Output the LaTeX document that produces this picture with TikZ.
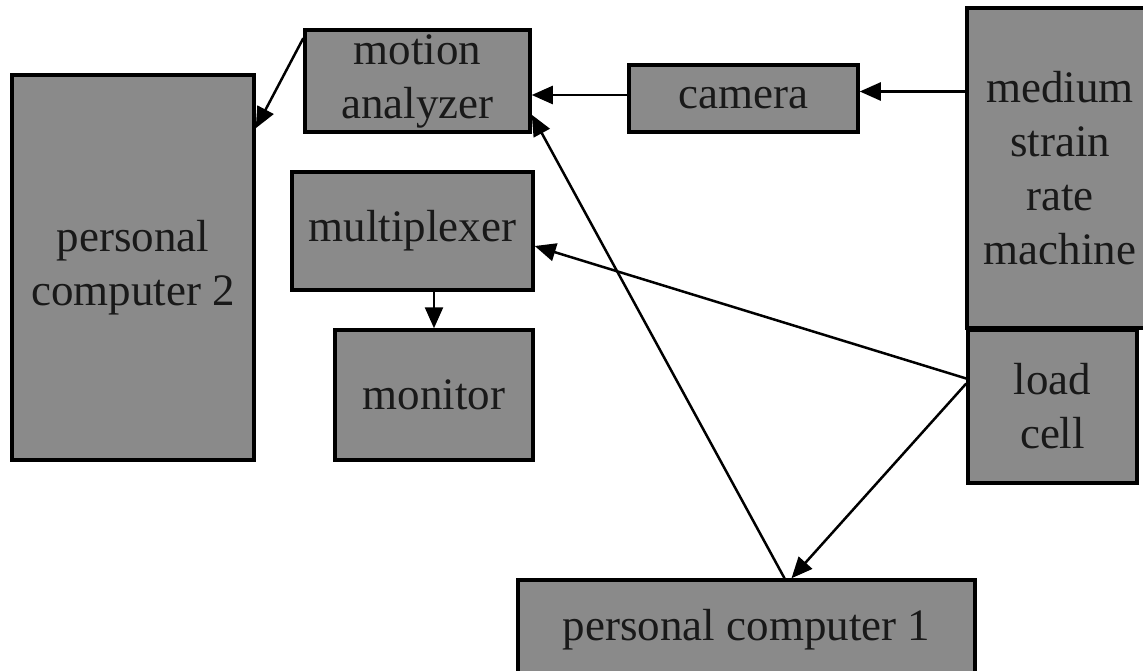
\documentclass[tikz,border=0pt]{standalone}
\usepackage{fontspec}
\setmainfont{Liberation Serif}
\usetikzlibrary{arrows.meta}
\tikzset{
  blk/.style={draw=black, line width=3.5pt, fill=boxgray, text=black!90,
    inner sep=0pt, align=center, font=\fontsize{45}{54}\selectfont},
  arr/.style={line width=2.5pt, -{Triangle[length=21pt,width=18pt]}}
}
\definecolor{boxgray}{HTML}{8A8A8A}
\begin{document}
\begin{tikzpicture}[x=1pt,y=-1pt]
\useasboundingbox (0,0) rectangle (1143,670);
\begin{scope}
\clip (0,0) rectangle (1143,670);
\node[blk, minimum width=242pt, minimum height=385pt] (pc2) at (133,267.5) {personal\\computer 2};
\node[blk, minimum width=225pt, minimum height=102pt] (ma) at (417.5,81) {motion\\analyzer};
\node[blk, minimum width=229pt, minimum height=67pt] (cam) at (743.5,98.5) {camera};
\node[blk, minimum width=186pt, minimum height=320pt] (msrm) at (1060,168) {medium\\strain\\rate\\machine};
\node[blk, minimum width=169pt, minimum height=153pt] (lc) at (1052.5,406.5) {load\\cell};
\node[blk, minimum width=241pt, minimum height=118pt] (mux) at (412.5,231) {multiplexer};
\node[blk, minimum width=198pt, minimum height=130pt] (mon) at (434,395) {monitor};
\node[blk, minimum width=457pt, minimum height=100pt] (pc1) at (746.5,630) {personal computer 1};
\end{scope}
\draw[arr] ([yshift=-10pt]ma.north west) -- ([yshift=-55pt]pc2.north east);
\draw[arr] ([yshift=-14pt]ma.east -| cam.west) -- ([yshift=-14pt]ma.east);
\draw[arr] ([yshift=7pt]cam.east -| msrm.west) -- ([yshift=7pt]cam.east);
\draw[arr] (mux.south -| mon.north) -- (mon.north);
\draw[arr] ([yshift=28pt]lc.west) -- ([yshift=-15pt]mux.east);
\draw[arr] ([yshift=23pt]lc.west) -- ([xshift=45pt]pc1.north);
\draw[arr] ([xshift=38pt]pc1.north) -- ([yshift=19pt]ma.south east);
\end{tikzpicture}
\end{document}
